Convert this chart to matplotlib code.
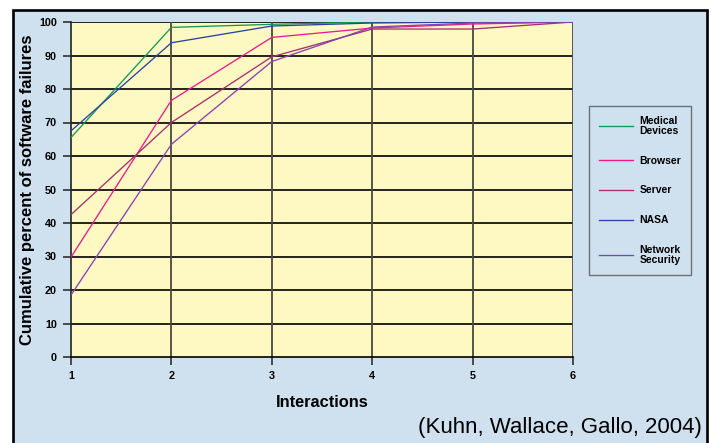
import matplotlib
matplotlib.use("Agg")
import matplotlib.pyplot as plt
from matplotlib.patches import Rectangle

plt.rcParams['font.family'] = ['Liberation Sans', 'DejaVu Sans']

# interactions on the x axis
interactions = [1, 2, 3, 4, 5, 6]

# cumulative percent of failures
medical = [65.5, 98.4, 99.3, 100, 100, 100]
browser = [29.8, 76.6, 95.4, 98.2, 99.4, 100]
server = [42.5, 70.0, 89.6, 97.9, 97.9, 100]
nasa = [67.5, 93.8, 98.8, 99.7, 100, 100]
netsec = [18.5, 63.5, 88.2, 98.5, 99.7, 100]

labels = ["Medical\nDevices", "Browser", "Server", "NASA", "Network\nSecurity"]
colors = ["#14985a", "#ec1a8c", "#a5306c", "#2a44a0", "#8a40b2"]
series = [medical, browser, server, nasa, netsec]

fig = plt.figure(figsize=(7.11, 4.43), dpi=100)
fig.patch.set_facecolor("white")

# light blue panel with black frame
frame = Rectangle((13 / 711, -0.05), (706.5 - 13) / 711, 1.05 - 10 / 443,
                  transform=fig.transFigure, facecolor="#cfe0ee",
                  edgecolor="black", linewidth=1.9, zorder=-10)
fig.patches.append(frame)

ax = fig.add_axes([71 / 711, 1 - 357 / 443, (573 - 71) / 711, (357 - 22) / 443])
ax.set_facecolor("#fef9c3")

for vals, lab, col in zip(series, labels, colors):
    ax.plot(interactions, vals, color=col, lw=0.95, label=lab, zorder=3)

ax.set_xlim(1, 6)
ax.set_ylim(0, 100)
ax.set_xticks(interactions)
ax.set_yticks(range(0, 101, 10))

# grid: black horizontal, dark grey vertical
for y in range(10, 101, 10):
    ax.axhline(y, color="black", lw=1.2, zorder=1)
for x in interactions[1:]:
    ax.axvline(x, color="#4a4840", lw=1.3, zorder=1)

for side in ["top", "right"]:
    ax.spines[side].set_visible(False)
ax.spines["left"].set_color("#222222")
ax.spines["bottom"].set_color("black")
ax.spines["left"].set_linewidth(1.2)
ax.spines["bottom"].set_linewidth(1.2)

ax.tick_params(axis="both", length=6, width=1.1, color="#222222",
               labelsize=7.8, pad=4)
for t in ax.get_xticklabels() + ax.get_yticklabels():
    t.set_fontweight("bold")

ax.set_xlabel("Interactions", fontsize=11.8, fontweight="bold", labelpad=10)
ax.set_ylabel("Cumulative percent of software failures", fontsize=12,
              fontweight="bold", labelpad=3)

leg = fig.legend(loc="upper left", bbox_to_anchor=(589 / 711, 1 - 106 / 443),
                 frameon=True, fancybox=False, fontsize=7.5,
                 handlelength=3.3, handletextpad=0.6, labelspacing=1.9,
                 borderpad=0.95, borderaxespad=0)
leg.get_frame().set_facecolor("#cfe0ee")
leg.get_frame().set_edgecolor("#555555")
leg.get_frame().set_linewidth(1.0)
for t in leg.get_texts():
    t.set_fontweight("bold")
    t.set_linespacing(1.0)

fig.text(702 / 711, 1 - 428 / 443, "(Kuhn, Wallace, Gallo, 2004)",
         ha="right", va="center", fontsize=16)

fig.savefig("out.png", dpi=100)
